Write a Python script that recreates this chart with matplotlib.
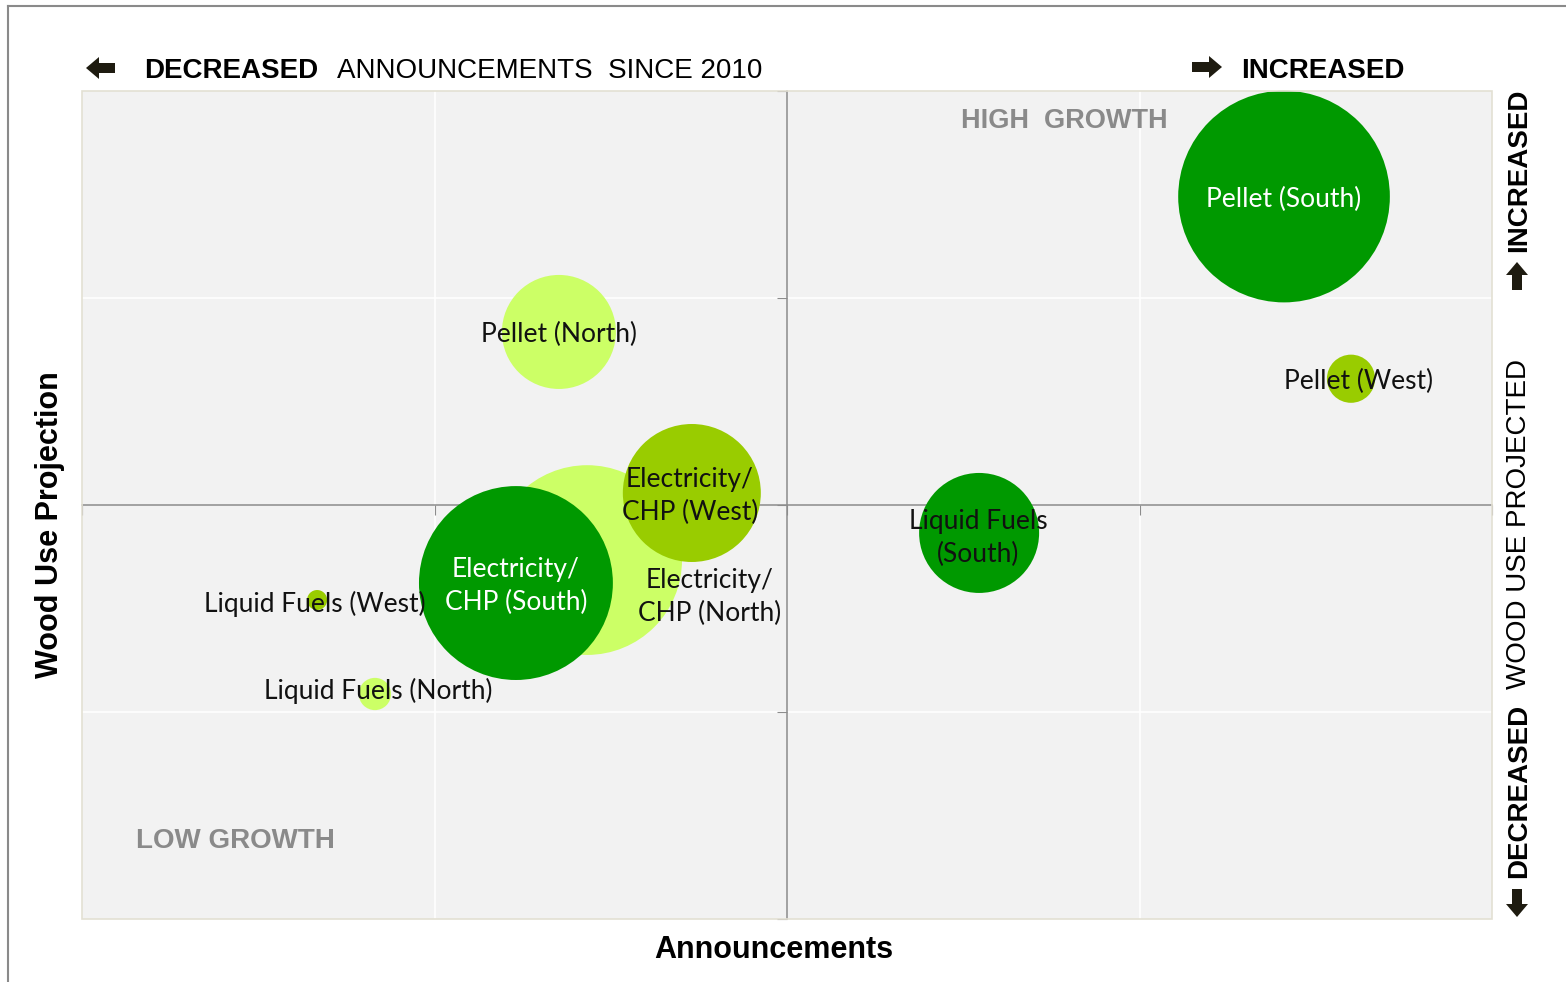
import matplotlib
matplotlib.use("Agg")
import matplotlib.pyplot as plt
from matplotlib.patches import Rectangle, FancyArrow
import numpy as np

# ---------------- data ----------------
names = ["Electricity/\nCHP (North)", "Electricity/\nCHP (South)", "Electricity/\nCHP (West)",
         "Pellet (South)", "Pellet (West)", "Pellet (North)",
         "Liquid Fuels\n(South)", "Liquid Fuels (West)", "Liquid Fuels (North)"]
announcements = [-0.567, -0.769, -0.27, 1.41, 1.60, -0.647, 0.545, -1.333, -1.169]
wood_use = [-0.266, -0.377, 0.058, 1.49, 0.61, 0.836, -0.135, -0.459, -0.913]
volume = [90.0, 94.0, 47.6, 112.0, 5.8, 32.5, 36.0, 1.0, 2.6]
region = ["North", "South", "West", "South", "West", "North", "South", "West", "North"]

region_colors = {"South": "#009900", "West": "#99CC00", "North": "#CCFF66"}
label_colors = ["#111111", "white", "#111111", "white", "#111111", "#111111",
                "#111111", "#111111", "#111111"]

W, H, DPI = 1566, 982, 100
fig = plt.figure(figsize=(W / DPI, H / DPI), dpi=DPI)
fig.patch.set_facecolor("white")

# plot area in pixels
L, R, T, B = 82, 1492, 91, 919
ax = fig.add_axes([L / W, 1 - B / H, (R - L) / W, (B - T) / H])
ax.set_facecolor("#F2F2F2")
ax.set_xlim(-2, 2)
ax.set_ylim(-2, 2)

# white gridlines
for v in (-1, 1):
    ax.axvline(v, color="white", lw=1.2, zorder=1)
    ax.axhline(v, color="white", lw=1.2, zorder=1)

# center axes
for s in ("top", "right"):
    ax.spines[s].set_visible(False)
ax.spines["left"].set_position(("data", 0))
ax.spines["bottom"].set_position(("data", 0))
for s in ("left", "bottom"):
    ax.spines[s].set_color("#8C8C8C")
    ax.spines[s].set_linewidth(1.1)
    ax.spines[s].set_zorder(2)
ax.set_xticks([-2, -1, 0, 1, 2])
ax.set_yticks([-2, -1, 0, 1, 2])
ax.tick_params(axis="x", direction="out", length=7, color="#8C8C8C", labelbottom=False)
ax.tick_params(axis="y", direction="out", length=7, color="#8C8C8C", labelleft=False)

# plot border
ax.add_patch(Rectangle((0, 0), 1, 1, transform=ax.transAxes, fill=False,
                       edgecolor="#E3E0D3", lw=1.2, zorder=5, clip_on=False))

# bubbles
px_to_pt = 72 / DPI
for i in range(len(names)):
    r_px = 10 * np.sqrt(volume[i])
    s = (2 * r_px * px_to_pt) ** 2
    ax.scatter([announcements[i]], [wood_use[i]], s=s, color=region_colors[region[i]],
               edgecolors="none", zorder=3 + i * 0.01, clip_on=False)

# labels (pixel offsets relative to bubble centre)
label_offsets = {0: (122, 37), 1: (0, 3), 2: (-2, 3), 3: (0, 3), 4: (8, 3), 5: (0, 3),
                 6: (-1, 5), 7: (-2, 4), 8: (3, -3)}
for i in range(len(names)):
    dx, dy = label_offsets[i]
    ax.annotate(names[i], (announcements[i], wood_use[i]), xytext=(dx * px_to_pt, -dy * px_to_pt),
                textcoords="offset points", ha="center", va="center",
                fontsize=19, family="Lato", color=label_colors[i],
                linespacing=1.4, zorder=10)

# ---------------- overlay for pixel-positioned decorations ----------------
ov = fig.add_axes([0, 0, 1, 1], zorder=20)
ov.set_xlim(0, W)
ov.set_ylim(H, 0)
ov.axis("off")
ov.patch.set_alpha(0)

# outer frame lines
ov.plot([8, 8], [6, H], color="#8A8A8A", lw=1.5)
ov.plot([8, W], [6, 6], color="#8A8A8A", lw=1.5)

sans = ["Liberation Sans", "DejaVu Sans"]
ov.text(961, 121, "HIGH  GROWTH", fontsize=19.5, fontweight="bold", color="#8A8A8A",
        family=sans, ha="left", va="center")
ov.text(136, 841, "LOW GROWTH", fontsize=20, fontweight="bold", color="#8A8A8A",
        family=sans, ha="left", va="center")

ov.text(144, 71, "DECREASED", fontsize=20, fontweight="bold", color="black",
        family=sans, ha="left", va="center")
ov.text(337, 71, "ANNOUNCEMENTS  SINCE 2010", fontsize=20, color="black",
        family=sans, ha="left", va="center")
ov.text(1241, 71, "INCREASED", fontsize=20, fontweight="bold", color="black",
        family=sans, ha="left", va="center")

ov.text(774, 950, "Announcements", fontsize=22, fontweight="bold", color="black",
        family=sans, ha="center", va="center")
ov.text(50, 525, "Wood Use Projection", fontsize=22, fontweight="bold", color="black",
        family=sans, ha="center", va="center", rotation=90)

# right side vertical texts
ov.text(1519, 170, "INCREASED", fontsize=20, fontweight="bold", color="black",
        family=sans, ha="center", va="center", rotation=90)
ov.text(1519, 791, "DECREASED", fontsize=20, fontweight="bold", color="black",
        family=sans, ha="center", va="center", rotation=90)
ov.text(1519, 524, "WOOD USE PROJECTED", fontsize=20, color="black",
        family=sans, ha="center", va="center", rotation=90)

# block arrows
arrow_kw = dict(color="#1E1B10", length_includes_head=True, lw=0)
ov.add_patch(FancyArrow(115, 68, -29, 0, width=10, head_width=22, head_length=13, **arrow_kw))
ov.add_patch(FancyArrow(1192, 67, 30, 0, width=10, head_width=22, head_length=13, **arrow_kw))
ov.add_patch(FancyArrow(1517, 290, 0, -28, width=10, head_width=22, head_length=13, **arrow_kw))
ov.add_patch(FancyArrow(1517, 889, 0, 28, width=10, head_width=22, head_length=13, **arrow_kw))

fig.savefig("out.png", dpi=DPI, facecolor="white")
